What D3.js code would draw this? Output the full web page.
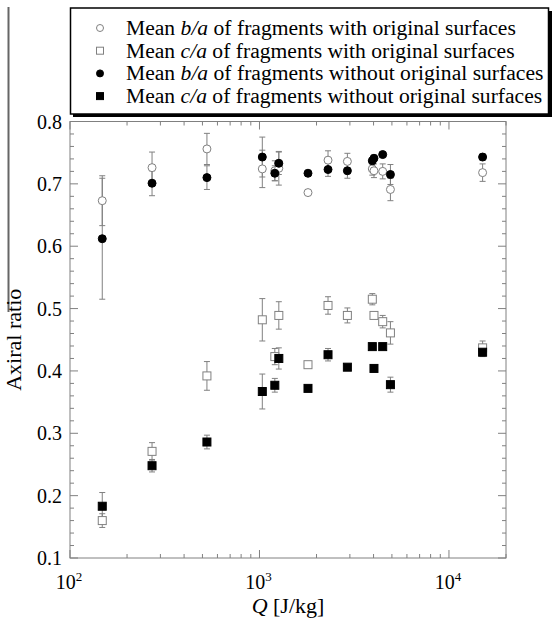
<!DOCTYPE html>
<html>
<head>
<meta charset="utf-8">
<script src="https://cdn.jsdelivr.net/npm/d3@7"></script>
<style>
  body { margin: 0; background: #fff; }
</style>
</head>
<body>
<div id="chart"></div>
<script>
// Q [J/kg] of each experiment
const qValues = [148, 271, 528, 1035, 1205, 1265, 1803, 2300, 2910, 3940, 4020, 4470, 4910, 15050];

// mean axial ratios and their error half-widths
const baOrig     = [0.673, 0.726, 0.756, 0.724, 0.721, 0.725, 0.686, 0.738, 0.736, 0.724, 0.721, 0.720, 0.691, 0.718];
const baOrigErr  = [0.040, 0.025, 0.025, 0.030, 0.016, 0.027, 0,     0.015, 0.013, 0.010, 0.011, 0.012, 0.018, 0.014];
const caOrig     = [0.160, 0.271, 0.392, 0.482, 0.423, 0.489, 0.410, 0.505, 0.489, 0.515, 0.489, 0.479, 0.461, 0.437];
const caOrigErr  = [0.011, 0.014, 0.023, 0.034, 0.013, 0.022, 0,     0.014, 0.012, 0.009, 0,     0.010, 0.018, 0.011];
const baFrag     = [0.612, 0.701, 0.710, 0.743, 0.717, 0.733, 0.717, 0.723, 0.721, 0.737, 0.741, 0.747, 0.715, 0.743];
const baFragErr  = [0.097, 0.020, 0.019, 0.032, 0.012, 0.018, 0,     0.011, 0.012, 0.005, 0.005, 0,     0.016, 0.005];
const caFrag     = [0.183, 0.248, 0.286, 0.367, 0.377, 0.420, 0.372, 0.426, 0.406, 0.439, 0.404, 0.439, 0.378, 0.430];
const caFragErr  = [0.022, 0.010, 0.011, 0.028, 0.011, 0.017, 0,     0.010, 0,     0,     0,     0,     0.012, 0.007];

const legendLabels = [
  ["Mean ", "b/a", " of fragments with original surfaces"],
  ["Mean ", "c/a", " of fragments with original surfaces"],
  ["Mean ", "b/a", " of fragments without original surfaces"],
  ["Mean ", "c/a", " of fragments without original surfaces"]
];
const xTickExps = [2, 3, 4];
const yTicks = [0.1, 0.2, 0.3, 0.4, 0.5, 0.6, 0.7, 0.8];

// Chart dimensions
const W = 555, H = 619;
const margin = { top: 121.5, right: 49, bottom: 61, left: 70 };
const width = W - margin.left - margin.right;
const height = H - margin.top - margin.bottom;
const axisColor = "#808080";
const serif = "'Liberation Serif', 'Times New Roman', Times, 'DejaVu Serif', serif";

const svg = d3.select("#chart").append("svg")
  .attr("width", W).attr("height", H)
  .attr("font-family", serif)
  .style("font-family", serif);

// stray line at the far left, as in the source figure
svg.append("line")
  .attr("x1", 8.5).attr("x2", 8.5).attr("y1", 7).attr("y2", 312)
  .attr("stroke", "#666").attr("stroke-width", 2);

const g = svg.append("g")
  .attr("transform", `translate(${margin.left},${margin.top})`);

const x = d3.scaleLog().domain([100, 20000]).range([0, width]);
const y = d3.scaleLinear().domain([0.1, 0.8]).range([height, 0]);

// frame
g.append("rect")
  .attr("width", width).attr("height", height)
  .attr("fill", "none").attr("stroke", axisColor).attr("stroke-width", 1);

// x ticks (log minor ticks), inward on bottom and top
const xMinor = [];
for (let d = 100; d < 20000; d *= 10) {
  for (let k = 1; k < 10; k++) {
    const v = d * k;
    if (v <= 20000) xMinor.push(v);
  }
}
xMinor.forEach(v => {
  const major = Math.abs(Math.log10(v) % 1) < 1e-9;
  const len = major ? 8 : 4;
  g.append("line").attr("x1", x(v)).attr("x2", x(v))
    .attr("y1", height).attr("y2", height - len)
    .attr("stroke", axisColor);
  g.append("line").attr("x1", x(v)).attr("x2", x(v))
    .attr("y1", 0).attr("y2", len)
    .attr("stroke", axisColor);
});

// y ticks every 0.02, majors every 0.1
d3.range(0, 36).forEach(i => {
  const v = 0.1 + i * 0.02;
  const major = i % 5 === 0;
  const len = major ? 8 : 4;
  g.append("line").attr("x1", 0).attr("x2", len)
    .attr("y1", y(v)).attr("y2", y(v)).attr("stroke", axisColor);
  g.append("line").attr("x1", width).attr("x2", width - len)
    .attr("y1", y(v)).attr("y2", y(v)).attr("stroke", axisColor);
});

// y tick labels
g.selectAll(".ylab").data(yTicks).enter().append("text")
  .attr("class", "ylab")
  .attr("x", -8).attr("y", d => y(d) + 7)
  .attr("text-anchor", "end")
  .attr("font-family", serif)
  .style("font-size", "20px")
  .text(d => d.toFixed(1));

// x tick labels 10^n
xTickExps.forEach(e => {
  const t = g.append("text")
    .attr("x", x(Math.pow(10, e)) - 1).attr("y", height + 31)
    .attr("text-anchor", "middle")
    .attr("font-family", serif)
    .style("font-size", "20px");
  t.append("tspan").text("10");
  t.append("tspan").attr("dy", -8).style("font-size", "13px").text(e);
});

// axis titles
const xt = g.append("text")
  .attr("x", width / 2).attr("y", height + 55)
  .attr("text-anchor", "middle")
  .attr("font-family", serif)
  .style("font-size", "22px");
xt.append("tspan").style("font-style", "italic").text("Q");
xt.append("tspan").text(" [J/kg]");

g.append("text")
  .attr("transform", `translate(${-49},${height / 2}) rotate(-90)`)
  .attr("text-anchor", "middle")
  .attr("font-family", serif)
  .style("font-size", "22px")
  .text("Axiral ratio");

// series
const series = [
  { vals: baOrig, err: baOrigErr, shape: "circle", filled: false },
  { vals: caOrig, err: caOrigErr, shape: "square", filled: false },
  { vals: baFrag, err: baFragErr, shape: "circle", filled: true },
  { vals: caFrag, err: caFragErr, shape: "square", filled: true }
];

function drawMarker(sel, s, cx, cy, r) {
  if (s.shape === "circle") {
    sel.append("circle").attr("cx", cx).attr("cy", cy).attr("r", r)
      .attr("fill", s.filled ? "#000" : "#fff")
      .attr("stroke", s.filled ? "#000" : axisColor).attr("stroke-width", 1);
  } else {
    sel.append("rect").attr("x", cx - r).attr("y", cy - r)
      .attr("width", 2 * r).attr("height", 2 * r)
      .attr("fill", s.filled ? "#000" : "#fff")
      .attr("stroke", s.filled ? "#000" : axisColor).attr("stroke-width", 1);
  }
}

// error bars first
series.forEach(s => {
  s.vals.forEach((v, i) => {
    if (!s.err[i]) return;
    const cx = x(qValues[i]);
    const y1 = y(v + s.err[i]), y2 = y(v - s.err[i]);
    g.append("line").attr("x1", cx).attr("x2", cx).attr("y1", y1).attr("y2", y2)
      .attr("stroke", axisColor);
    [y1, y2].forEach(yy => {
      g.append("line").attr("x1", cx - 3).attr("x2", cx + 3).attr("y1", yy).attr("y2", yy)
        .attr("stroke", axisColor);
    });
  });
});

// open markers, then filled markers on top
series.forEach(s => {
  s.vals.forEach((v, i) => drawMarker(g, s, x(qValues[i]), y(v), 4));
});

// legend with drop shadow
const lg = svg.append("g");
lg.append("rect").attr("x", 73).attr("y", 11).attr("width", 479).attr("height", 106)
  .attr("fill", "#000");
lg.append("rect").attr("x", 70.5).attr("y", 8).attr("width", 478).attr("height", 106)
  .attr("fill", "#fff").attr("stroke", "#000").attr("stroke-width", 1.5);

legendLabels.forEach((parts, i) => {
  const ly = 28 + i * 22.7;
  drawMarker(lg, series[i], 100, ly, 3.5);
  const t = lg.append("text").attr("x", 126).attr("y", ly + 7)
    .attr("font-family", serif)
    .style("font-size", "21.6px");
  t.append("tspan").text(parts[0]);
  t.append("tspan").style("font-style", "italic").text(parts[1]);
  t.append("tspan").text(parts[2]);
});
</script>
</body>
</html>
